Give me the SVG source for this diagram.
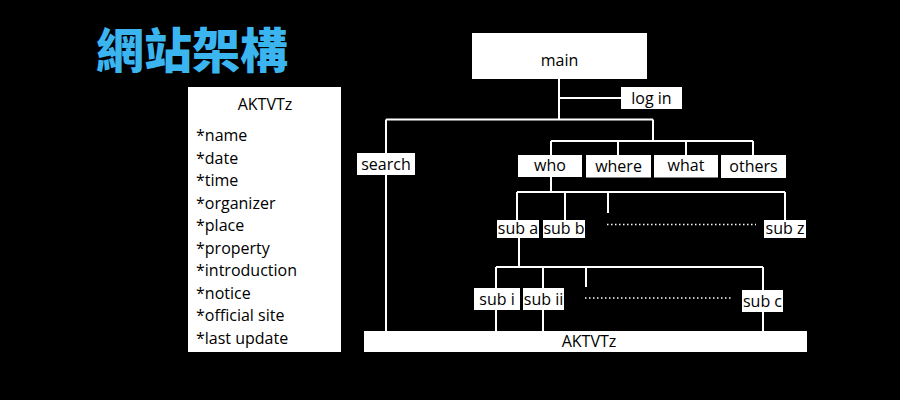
<svg xmlns="http://www.w3.org/2000/svg" width="900" height="400" viewBox="0 0 900 400">
<style>
.bg{fill:#000}
.box{fill:#fff}
.t{font-family:"Open Sans","Liberation Sans",sans-serif;font-size:16px;fill:#000;text-anchor:middle}
.l{font-family:"Open Sans","Liberation Sans",sans-serif;font-size:16px;fill:#000}
.ln{stroke:#fff;stroke-width:2;fill:none}
.dot{stroke:#fff;stroke-width:1.5;stroke-dasharray:1.5 2.5;fill:none}
.title{font-family:"Noto Sans CJK TC","Noto Sans CJK SC",sans-serif;font-weight:900;font-size:48px;fill:#3BB5F0}
</style>
<rect class="bg" x="0" y="0" width="900" height="400"/>
<text class="title" x="96" y="68">網站架構</text>
<g id="connectors">
<path class="ln" d="M559,79V119.5M559,98H621M386,119.5H653M386,119.5V331M653,119.5V141M551,141H753M551,141V155M618,141V155M686,141V155M753,141V155M551,177V192M517,192H785M517,192V220M565,192V220M608,192V213M785,192V220M519,237V267M496,267H763M496,267V331M543,267V331M586,267V287M763,267V331"/>
<path class="dot" d="M607,224.5H756M585,298H733"/>
</g>
<g id="info"><rect class="box" x="188" y="87" width="153" height="265"/>
<text class="t" x="265" y="110">AKTVTz</text>
<text class="l" x="196" y="141">*name</text>
<text class="l" x="196" y="164">*date</text>
<text class="l" x="196" y="186">*time</text>
<text class="l" x="196" y="209">*organizer</text>
<text class="l" x="196" y="231">*place</text>
<text class="l" x="196" y="254">*property</text>
<text class="l" x="196" y="276">*introduction</text>
<text class="l" x="196" y="299">*notice</text>
<text class="l" x="196" y="321">*official site</text>
<text class="l" x="196" y="344">*last update</text>
</g>
<g id="main"><rect class="box" x="472" y="33" width="175" height="46"/><text class="t" x="559.5" y="66">main</text></g>
<g id="login"><rect class="box" x="621" y="87" width="61" height="22"/><text class="t" x="651.5" y="104">log in</text></g>
<g id="search"><rect class="box" x="357" y="153" width="58" height="22"/><text class="t" x="386" y="170">search</text></g>
<g id="who"><rect class="box" x="518" y="155" width="64" height="22"/><text class="t" x="550" y="171">who</text></g>
<g id="where"><rect class="box" x="586" y="155" width="65" height="22.5"/><text class="t" x="618.5" y="171.5">where</text></g>
<g id="what"><rect class="box" x="654" y="155" width="64" height="22.5"/><text class="t" x="686" y="171">what</text></g>
<g id="others"><rect class="box" x="721" y="155" width="65" height="23"/><text class="t" x="753.5" y="172">others</text></g>
<g id="suba"><rect class="box" x="497" y="220" width="42" height="18"/><text class="t" x="518" y="234">sub a</text></g>
<g id="subb"><rect class="box" x="543" y="220" width="42" height="18"/><text class="t" x="564" y="234">sub b</text></g>
<g id="subz"><rect class="box" x="764" y="220" width="42" height="18"/><text class="t" x="785" y="234">sub z</text></g>
<g id="subi"><rect class="box" x="474" y="288" width="46" height="22"/><text class="t" x="497" y="305">sub i</text></g>
<g id="subii"><rect class="box" x="523" y="288" width="41" height="22"/><text class="t" x="543.5" y="305">sub ii</text></g>
<g id="subc"><rect class="box" x="742" y="290" width="41" height="22"/><text class="t" x="762.5" y="307">sub c</text></g>
<g id="aktvtz"><rect class="box" x="364" y="331" width="443" height="21"/><text class="t" x="589" y="347">AKTVTz</text></g>
</svg>
